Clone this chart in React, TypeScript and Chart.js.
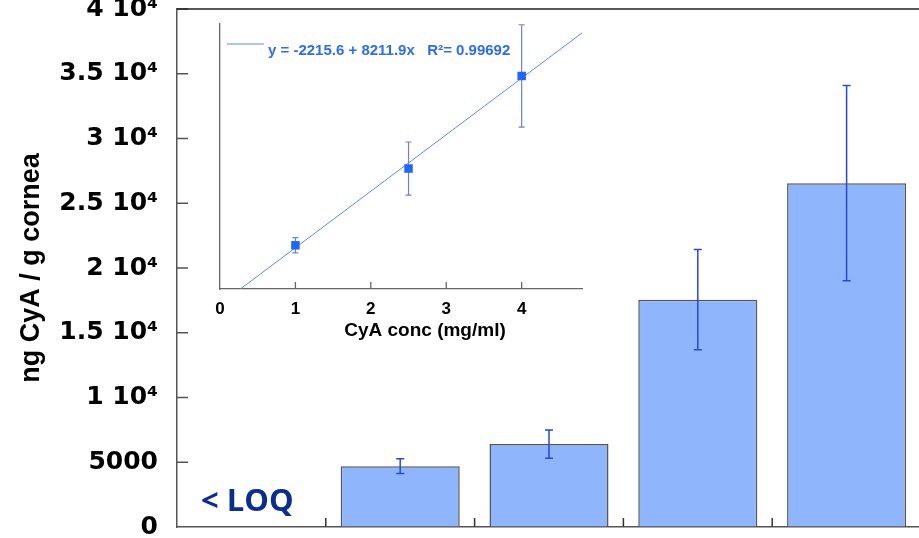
import React, { useEffect, useRef } from 'react';
import { Chart, registerables } from 'chart.js';

Chart.register(...registerables);

// ---- Main bar chart data ----
const categories = ['C1', 'C2', 'C3', 'C4', 'C5'];
const barValues: (number | null)[] = [null, 4700, 6400, 17550, 26550];
const barErrors: (number | null)[] = [null, 570, 1100, 3870, 7540];
const yTickLabels = ['0', '5000', '1 10⁴', '1.5 10⁴', '2 10⁴', '2.5 10⁴', '3 10⁴', '3.5 10⁴', '4 10⁴'];
const yTitle = 'ng CyA / g cornea';
const loqLabel = '< LOQ';

// ---- Inset calibration data ----
const insetConc = [1, 2.5, 4];
const insetMeans = [6350, 17500, 30950];
const insetErrors = [1110, 3860, 7440];
const fitLineX = [0.27, 4.8];
const fitLineY = [0, 37200];
const insetXTickLabels = ['0', '1', '2', '3', '4'];
const insetXTitle = 'CyA conc (mg/ml)';
const fitLabel = 'y = -2215.6 + 8211.9x   R²= 0.99692';

const W = 919;
const H = 538;
const MAIN_W = 930;
const INSET_X_AXIS_H = 50;

const mainDecor = {
  id: 'mainDecor',
  afterDatasetsDraw(chart: any) {
    const { ctx, chartArea, scales } = chart;
    const xs = scales.x;
    const ys = scales.y;
    const meta = chart.getDatasetMeta(0);
    ctx.save();
    // error bars
    ctx.strokeStyle = '#2a48d8';
    ctx.lineWidth = 1.5;
    barValues.forEach((v, i) => {
      const e = barErrors[i];
      if (v == null || e == null) return;
      const x = meta.data[i].x;
      const yt = ys.getPixelForValue(v + e);
      const yb = ys.getPixelForValue(v - e);
      ctx.beginPath();
      ctx.moveTo(x, yt);
      ctx.lineTo(x, yb);
      ctx.moveTo(x - 4, yt);
      ctx.lineTo(x + 4, yt);
      ctx.moveTo(x - 4, yb);
      ctx.lineTo(x + 4, yb);
      ctx.stroke();
    });
    // inward y ticks
    ctx.strokeStyle = '#555';
    ctx.lineWidth = 1.5;
    ys.ticks.forEach((t: any) => {
      if (t.value === 0) return;
      const y = ys.getPixelForValue(t.value);
      ctx.beginPath();
      ctx.moveTo(chartArea.left, y);
      ctx.lineTo(chartArea.left + 11, y);
      ctx.stroke();
    });
    // inward x ticks at category boundaries
    ctx.strokeStyle = '#333';
    for (let i = 1; i < categories.length; i++) {
      const x = (xs.getPixelForValue(i - 1) + xs.getPixelForValue(i)) / 2;
      ctx.beginPath();
      ctx.moveTo(x, chartArea.bottom);
      ctx.lineTo(x, chartArea.bottom - 9);
      ctx.stroke();
    }
    // top frame
    ctx.strokeStyle = '#222';
    ctx.beginPath();
    ctx.moveTo(chartArea.left, chartArea.top);
    ctx.lineTo(chartArea.right, chartArea.top);
    ctx.stroke();
    // < LOQ label
    ctx.fillStyle = '#0b2e8e';
    ctx.font = 'bold 31px "Open Sans"';
    ctx.textAlign = 'center';
    ctx.textBaseline = 'alphabetic';
    ctx.fillText(loqLabel, xs.getPixelForValue(0) - 4, chartArea.bottom - 16);
    ctx.restore();
  },
};

const insetDecor = {
  id: 'insetDecor',
  beforeDatasetsDraw(chart: any) {
    const { ctx, scales } = chart;
    const xs = scales.x;
    const ys = scales.y;
    ctx.save();
    ctx.strokeStyle = '#6f80d2';
    ctx.lineWidth = 1.2;
    insetConc.forEach((c, i) => {
      const x = xs.getPixelForValue(c);
      const yt = ys.getPixelForValue(insetMeans[i] + insetErrors[i]);
      const yb = ys.getPixelForValue(insetMeans[i] - insetErrors[i]);
      ctx.beginPath();
      ctx.moveTo(x, yt);
      ctx.lineTo(x, yb);
      ctx.moveTo(x - 3, yt);
      ctx.lineTo(x + 3, yt);
      ctx.moveTo(x - 3, yb);
      ctx.lineTo(x + 3, yb);
      ctx.stroke();
    });
    ctx.restore();
  },
  afterDraw(chart: any) {
    const { ctx, chartArea, scales } = chart;
    const xs = scales.x;
    const ys = scales.y;
    ctx.save();
    ctx.strokeStyle = '#666';
    ctx.lineWidth = 1.3;
    xs.ticks.forEach((t: any) => {
      if (t.value === 0 || !Number.isInteger(t.value)) return;
      const x = xs.getPixelForValue(t.value);
      ctx.beginPath();
      ctx.moveTo(x, chartArea.bottom);
      ctx.lineTo(x, chartArea.bottom - 7);
      ctx.stroke();
    });
    ys.ticks.forEach((t: any) => {
      if (t.value === 0 || t.value % 5000 !== 0) return;
      const y = ys.getPixelForValue(t.value);
      ctx.beginPath();
      ctx.moveTo(chartArea.left, y);
      ctx.lineTo(chartArea.left + 7, y);
      ctx.stroke();
    });
    // legend
    const ly = chartArea.top + 20;
    ctx.strokeStyle = '#5c8be6';
    ctx.lineWidth = 1;
    ctx.beginPath();
    ctx.moveTo(chartArea.left + 7, ly);
    ctx.lineTo(chartArea.left + 44, ly);
    ctx.stroke();
    ctx.fillStyle = '#2d6cf2';
    ctx.font = 'bold 15px "Liberation Sans"';
    ctx.textAlign = 'left';
    ctx.textBaseline = 'alphabetic';
    ctx.fillText(fitLabel, chartArea.left + 48, ly + 11);
    // x title
    ctx.fillStyle = '#000';
    ctx.font = 'bold 19px "Liberation Sans"';
    ctx.textAlign = 'center';
    ctx.textBaseline = 'middle';
    ctx.fillText(insetXTitle, (chartArea.left + chartArea.right) / 2 + 24, chartArea.bottom + 42);
    ctx.restore();
  },
};

export default function App() {
  const mainRef = useRef<HTMLCanvasElement>(null);
  const insetRef = useRef<HTMLCanvasElement>(null);

  useEffect(() => {
    if (!mainRef.current || !insetRef.current) return;
    const main = new Chart(mainRef.current, {
      type: 'bar',
      data: {
        labels: categories,
        datasets: [
          {
            data: barValues as any,
            backgroundColor: '#8fb5fc',
            borderColor: '#555',
            borderWidth: 1.5,
            borderSkipped: 'start',
            barPercentage: 0.8,
            categoryPercentage: 1,
          },
        ],
      },
      options: {
        responsive: false,
        animation: false,
        layout: { padding: { top: 9, right: MAIN_W - 921, bottom: 11, left: 0 } },
        plugins: { legend: { display: false }, tooltip: { enabled: false } },
        scales: {
          x: {
            grid: { display: false, drawTicks: false },
            border: { display: true, color: '#555', width: 1.5 },
            ticks: { display: false },
            afterFit: (s: any) => {
              s.height = 0;
              s.paddingLeft = 0;
              s.paddingRight = 0;
            },
          },
          y: {
            min: 0,
            max: 40000,
            ticks: {
              stepSize: 5000,
              padding: 19,
              color: '#000',
              font: { family: '"DejaVu Sans"', weight: 'bold', size: 25 },
              callback: (_v: any, i: number) => yTickLabels[i],
            },
            grid: { drawOnChartArea: false, drawTicks: false },
            border: { display: true, color: '#555', width: 1.5 },
            title: {
              display: true,
              text: yTitle,
              color: '#000',
              font: { family: '"Liberation Sans"', weight: 'bold', size: 27 },
              padding: { top: 15, bottom: 0 },
            },
            afterFit: (s: any) => {
              s.width = 177;
              s.paddingTop = 0;
              s.paddingBottom = 0;
            },
          },
        },
      } as any,
      plugins: [mainDecor],
    });

    const inset = new Chart(insetRef.current, {
      type: 'scatter',
      data: {
        datasets: [
          {
            type: 'line',
            data: fitLineX.map((x, i) => ({ x, y: fitLineY[i] })),
            borderColor: '#5c8be6',
            borderWidth: 1,
            pointRadius: 0,
            order: 2,
          } as any,
          {
            type: 'scatter',
            data: insetConc.map((x, i) => ({ x, y: insetMeans[i] })),
            pointStyle: 'rect',
            pointRadius: 6,
            backgroundColor: '#1f66fa',
            borderColor: '#1f66fa',
            borderWidth: 0,
            order: 1,
          },
        ],
      },
      options: {
        responsive: false,
        animation: false,
        layout: { padding: { left: 220, top: 24, right: W - 582, bottom: H - 289 - INSET_X_AXIS_H } },
        plugins: { legend: { display: false }, tooltip: { enabled: false } },
        scales: {
          x: {
            type: 'linear',
            min: 0,
            max: 4.8,
            ticks: {
              stepSize: 1,
              padding: 10,
              color: '#000',
              autoSkip: false,
              maxRotation: 0,
              font: { family: '"Liberation Sans"', weight: 'bold', size: 17 },
              callback: (v: any) => (Number.isInteger(v) ? insetXTickLabels[v] ?? '' : ''),
            },
            grid: { display: false, drawTicks: false },
            border: { display: true, color: '#666', width: 1.3 },
            afterFit: (s: any) => {
              s.height = INSET_X_AXIS_H;
              s.paddingLeft = 0;
              s.paddingRight = 0;
            },
          },
          y: {
            min: 0,
            max: 38500,
            ticks: { display: false, stepSize: 5000 },
            grid: { display: false, drawTicks: false },
            border: { display: true, color: '#666', width: 1.3 },
            afterFit: (s: any) => {
              s.width = 0;
              s.paddingTop = 0;
              s.paddingBottom = 0;
            },
          },
        },
      } as any,
      plugins: [insetDecor],
    });

    return () => {
      main.destroy();
      inset.destroy();
    };
  }, []);

  return (
    <div
      style={{
        position: 'fixed',
        left: 0,
        top: 0,
        width: W,
        height: H,
        overflow: 'hidden',
        background: '#fff',
      }}
    >
      <canvas ref={mainRef} width={MAIN_W} height={H} style={{ position: 'absolute', left: 0, top: 0 }} />
      <canvas ref={insetRef} width={W} height={H} style={{ position: 'absolute', left: 0, top: 0 }} />
    </div>
  );
}
